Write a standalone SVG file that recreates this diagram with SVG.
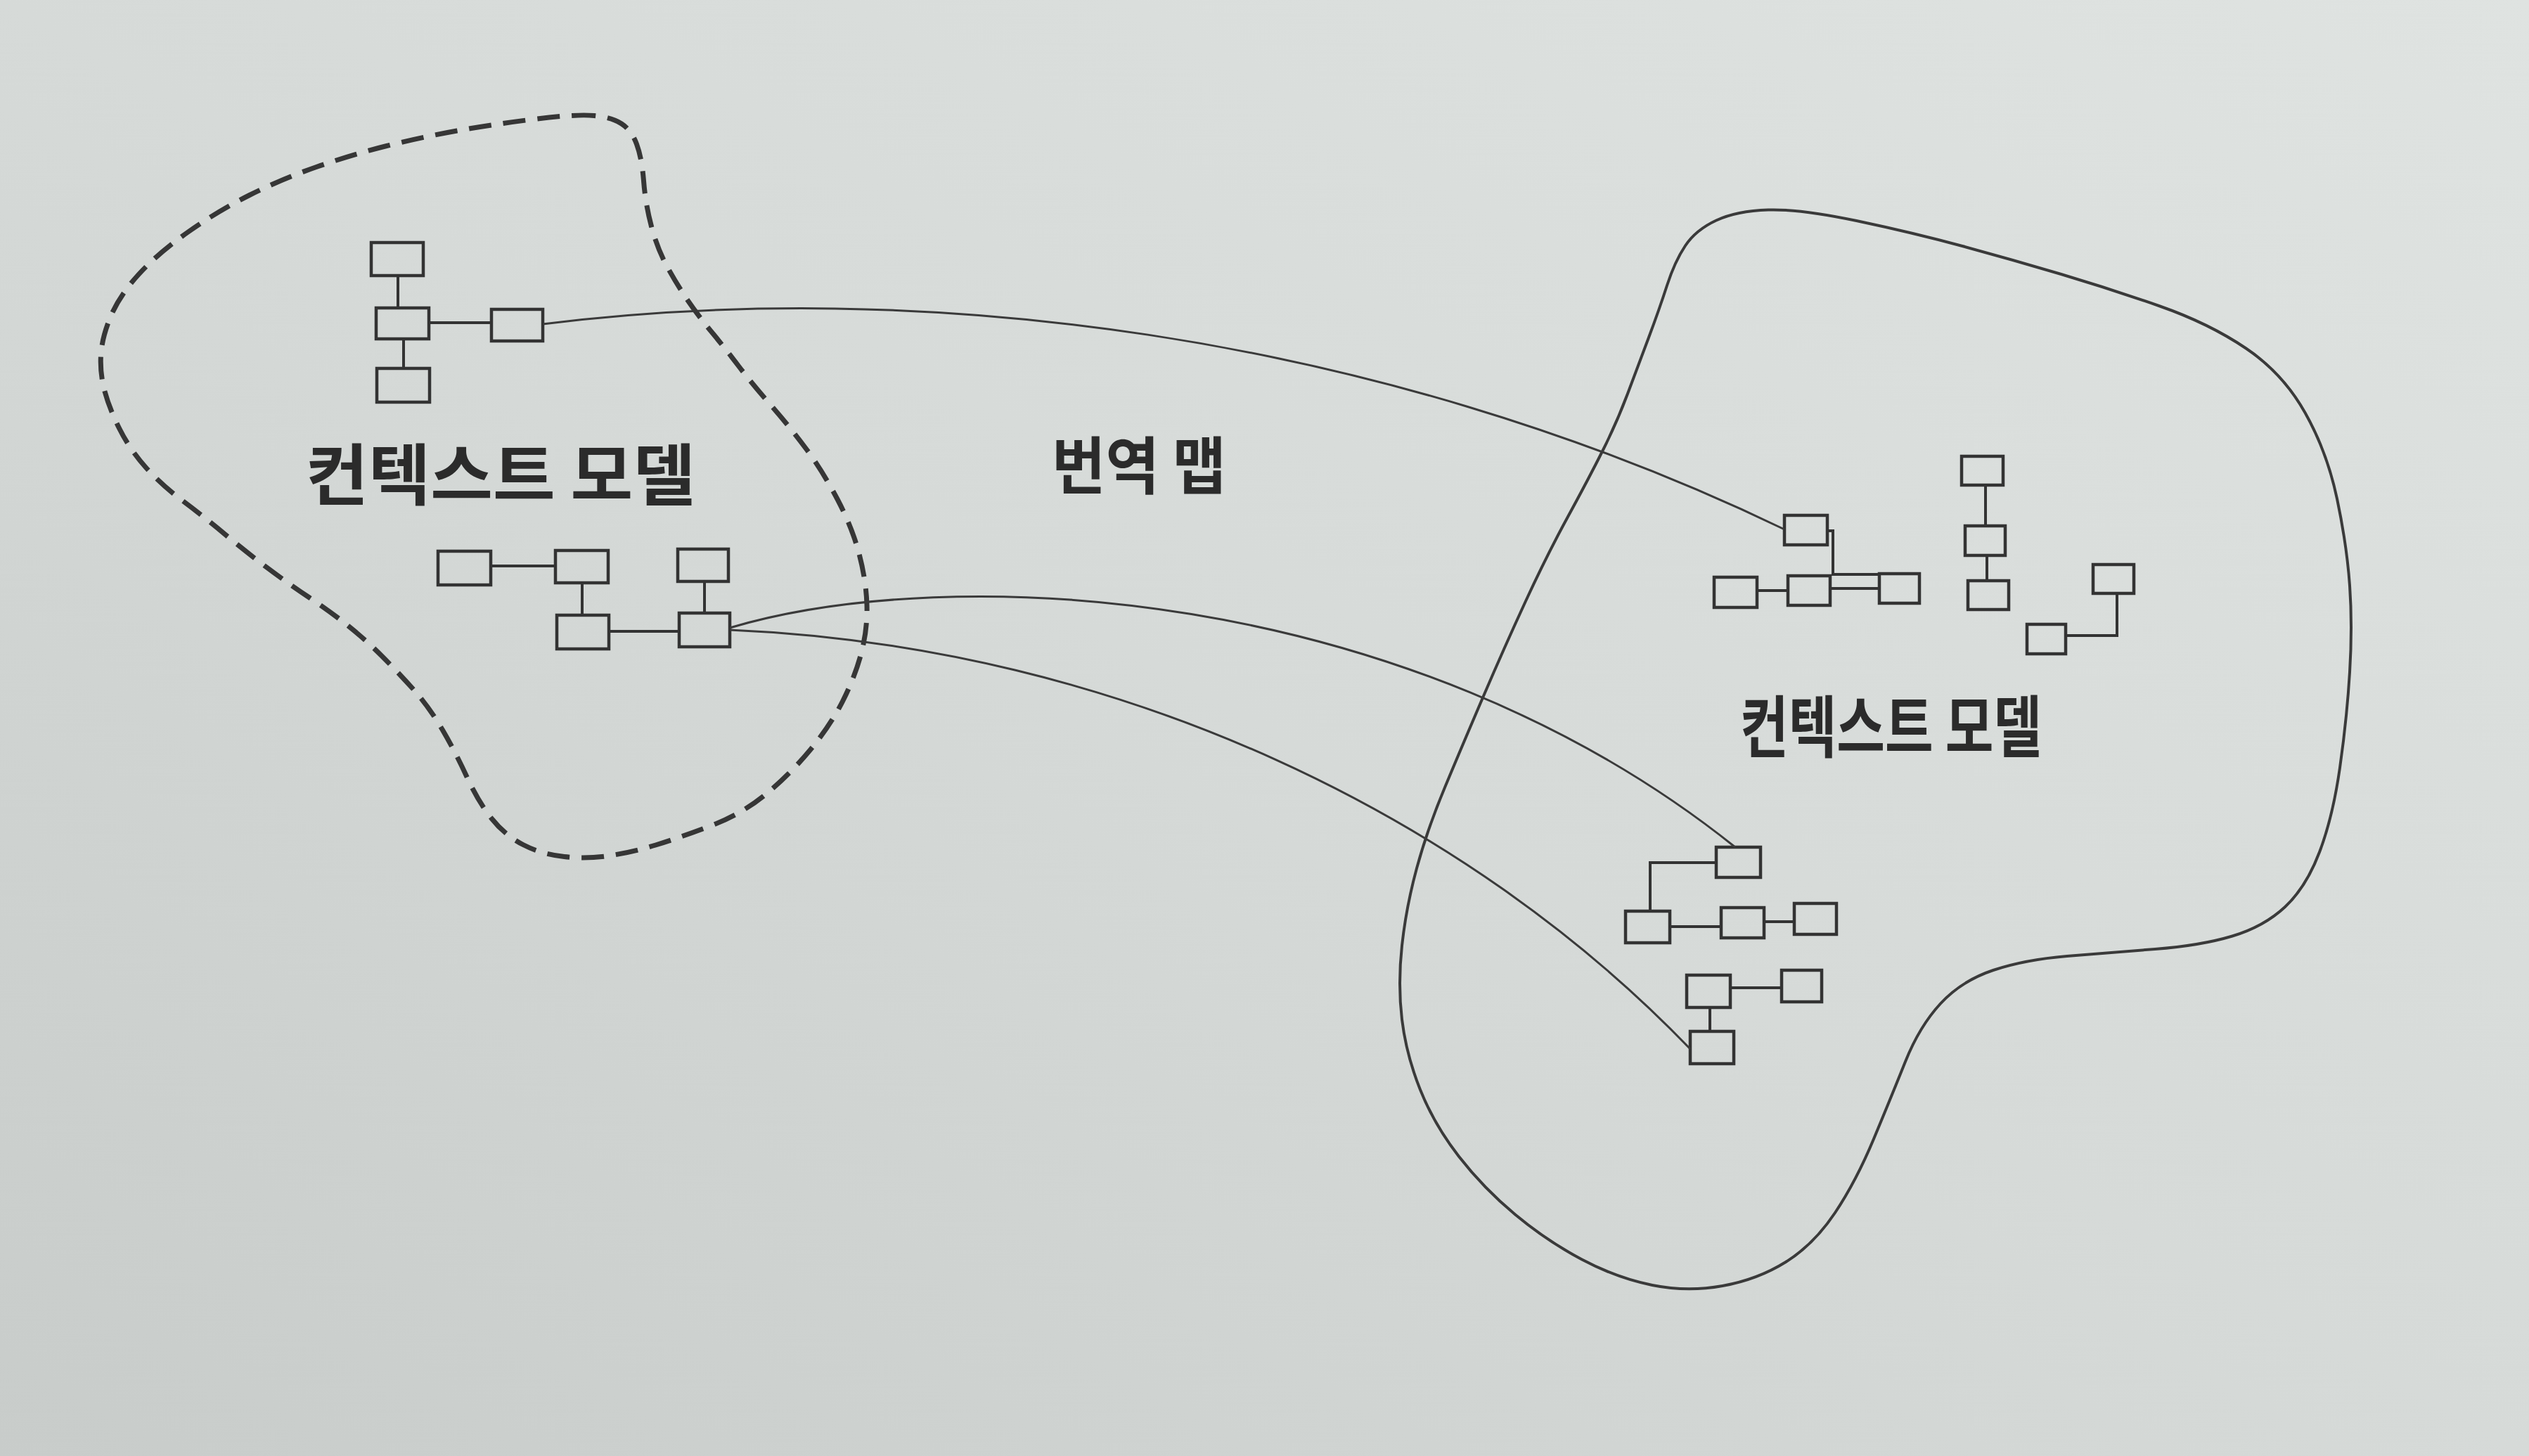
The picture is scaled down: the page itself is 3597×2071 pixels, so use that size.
<svg xmlns="http://www.w3.org/2000/svg" width="3597" height="2071" viewBox="0 0 3597 2071">
<defs>
<linearGradient id="paper" x1="1" y1="0" x2="0" y2="1">
<stop offset="0" stop-color="#dfe3e1"/>
<stop offset="0.5" stop-color="#d6dad8"/>
<stop offset="1" stop-color="#c8ccca"/>
</linearGradient>
<style>
.box{fill:none;stroke:#333;stroke-width:4.5}
.link{fill:none;stroke:#333;stroke-width:4}
.map{fill:none;stroke:#3a3a3a;stroke-width:3}
.dash{fill:none;stroke:#363636;stroke-width:7;stroke-dasharray:32 17;stroke-linecap:butt}
.solid{fill:none;stroke:#3a3a3a;stroke-width:4}
.lbl{font-family:"Noto Sans CJK KR","Noto Sans CJK SC",sans-serif;font-weight:700;fill:#2b2b2b}
</style>
</defs>
<rect x="0" y="0" width="3597" height="2071" fill="url(#paper)"/>

<g id="boundary-left">
<path class="dash" d="M845,164.5 Q820,162 760,169.5 Q700,177 650,186 Q600,195 550,207.5 Q500,220 450,237.5 Q400,255 355,277.5 Q310,300 267.5,330 Q225,360 197.5,390 Q170,420 157.5,450 Q145,480 143.5,505 Q142,530 148.5,555 Q155,580 170,610 Q185,640 207.5,665 Q230,690 260,712.5 Q290,735 320,760 Q350,785 380,807.5 Q410,830 440,850 Q470,870 495,890 Q520,910 542.5,932.5 Q565,955 587.5,980 Q610,1005 629,1037.5 Q648,1070 664,1105 Q680,1140 699,1164 Q718,1188 744,1201.5 Q770,1215 802.5,1218.5 Q835,1222 867.5,1217 Q900,1212 932.5,1202 Q965,1192 1010,1175 Q1055,1158 1089.5,1129.5 Q1124,1101 1152.5,1066.5 Q1181,1032 1198.5,997.5 Q1216,963 1225,929 Q1234,895 1233,860.5 Q1232,826 1222,788 Q1212,750 1191,710 Q1170,670 1147,639 Q1124,608 1096.5,576.5 Q1069,545 1050,520 Q1031,495 1012,472 Q993,449 978,427 Q963,405 949,379.5 Q935,354 926.5,322 Q918,290 915.5,257.5 Q913,225 905.5,205 Q898,185 884,176 Q870,167 845,164.5 Z"/>
</g>

<g id="boundary-right">
<path class="solid" d="M2441,313.5 Q2470,300 2515,298.5 Q2560,297 2640.5,314 Q2721,331 2791,350 Q2861,369 2931.5,390 Q3002,411 3072,435.5 Q3142,460 3194.5,495.5 Q3247,531 3278.5,587 Q3310,643 3324,709.5 Q3338,776 3342,833 Q3346,890 3342,956 Q3338,1022 3328,1092 Q3318,1162 3299,1212 Q3280,1262 3250,1290 Q3220,1318 3175,1331.5 Q3130,1345 3065,1350 Q3000,1355 2940,1360 Q2880,1365 2835,1380 Q2790,1395 2760,1427.5 Q2730,1460 2710,1510 Q2690,1560 2665,1620 Q2640,1680 2610,1725 Q2580,1770 2540,1795 Q2500,1820 2450,1829 Q2400,1838 2350,1828 Q2300,1818 2250,1791.5 Q2200,1765 2155,1727.5 Q2110,1690 2075,1645 Q2040,1600 2020,1550 Q2000,1500 1994,1450 Q1988,1400 1994,1345 Q2000,1290 2015,1235 Q2030,1180 2055,1120 Q2080,1060 2110,990 Q2140,920 2170,855 Q2200,790 2230,735 Q2260,680 2280,640 Q2300,600 2315,560 Q2330,520 2345,480 Q2360,440 2371,406 Q2382,372 2397,349.5 Q2412,327 2441,313.5 Z"/>
</g>

<g id="n-lt-a"><rect class="box" x="528" y="345" width="74" height="47"/></g>
<g id="n-lt-b"><rect class="box" x="535" y="438" width="75" height="44"/></g>
<g id="n-lt-c"><rect class="box" x="536" y="524" width="75" height="48"/></g>
<g id="n-lt-d"><rect class="box" x="699" y="440" width="73" height="45"/></g>

<g id="n-lb-1"><rect class="box" x="623" y="784" width="75" height="48"/></g>
<g id="n-lb-2"><rect class="box" x="790" y="783" width="75" height="46"/></g>
<g id="n-lb-3"><rect class="box" x="964" y="781" width="72" height="46"/></g>
<g id="n-lb-4"><rect class="box" x="792" y="875" width="74" height="48"/></g>
<g id="n-lb-5"><rect class="box" x="966" y="872" width="72" height="48"/></g>

<g id="n-rt-1"><rect class="box" x="2538" y="733" width="61" height="42"/></g>
<g id="n-rt-2"><rect class="box" x="2438" y="821" width="61" height="43"/></g>
<g id="n-rt-3"><rect class="box" x="2543" y="819" width="60" height="42"/></g>
<g id="n-rt-4"><rect class="box" x="2673" y="816" width="57" height="42"/></g>
<g id="n-rt-5"><rect class="box" x="2790" y="649" width="59" height="41"/></g>
<g id="n-rt-6"><rect class="box" x="2795" y="748" width="57" height="42"/></g>
<g id="n-rt-7"><rect class="box" x="2799" y="826" width="58" height="41"/></g>
<g id="n-rt-8"><rect class="box" x="2977" y="803" width="58" height="41"/></g>
<g id="n-rt-9"><rect class="box" x="2883" y="888" width="55" height="42"/></g>

<g id="n-rb-a"><rect class="box" x="2441" y="1205" width="63" height="43"/></g>
<g id="n-rb-b"><rect class="box" x="2312" y="1296" width="63" height="45"/></g>
<g id="n-rb-c"><rect class="box" x="2448" y="1291" width="61" height="43"/></g>
<g id="n-rb-d"><rect class="box" x="2552" y="1285" width="60" height="44"/></g>
<g id="n-rb-e"><rect class="box" x="2399" y="1387" width="62" height="46"/></g>
<g id="n-rb-f"><rect class="box" x="2534" y="1380" width="57" height="45"/></g>
<g id="n-rb-g"><rect class="box" x="2404" y="1467" width="62" height="46"/></g>

<g id="connectors">
<line class="link" x1="566" y1="392" x2="566" y2="438"/>
<line class="link" x1="574" y1="482" x2="574" y2="524"/>
<line class="link" x1="610" y1="459" x2="699" y2="459"/>
<line class="link" x1="698" y1="805" x2="790" y2="805"/>
<line class="link" x1="828" y1="829" x2="828" y2="875"/>
<line class="link" x1="1002" y1="827" x2="1002" y2="872"/>
<line class="link" x1="866" y1="898" x2="966" y2="898"/>
<polyline class="link" points="2599,755 2607,755 2607,817 2673,817"/>
<line class="link" x1="2499" y1="840" x2="2543" y2="840"/>
<line class="link" x1="2603" y1="837" x2="2673" y2="837"/>
<line class="link" x1="2824" y1="690" x2="2824" y2="748"/>
<line class="link" x1="2826" y1="790" x2="2826" y2="826"/>
<polyline class="link" points="3011,844 3011,904 2938,904"/>
<polyline class="link" points="2441,1227 2347,1227 2347,1296"/>
<line class="link" x1="2375" y1="1318" x2="2448" y2="1318"/>
<line class="link" x1="2509" y1="1311" x2="2552" y2="1311"/>
<line class="link" x1="2461" y1="1405" x2="2534" y2="1405"/>
<line class="link" x1="2432" y1="1433" x2="2432" y2="1467"/>
<path class="map" d="M772,461 C1300,395 1950,470 2538,753"/>
<path class="map" d="M1038,893 C1350,800 2000,830 2468,1205"/>
<path class="map" d="M1038,896 C1600,920 2090,1165 2404,1492"/>
</g>

<g id="labels">
<text class="lbl" x="435" y="711" font-size="95" textLength="554" lengthAdjust="spacingAndGlyphs">컨텍스트 모델</text>
<text class="lbl" x="1496" y="695" font-size="89" textLength="248" lengthAdjust="spacingAndGlyphs">번역 맵</text>
<text class="lbl" x="2475" y="1069" font-size="96" textLength="429" lengthAdjust="spacingAndGlyphs">컨텍스트 모델</text>
</g>
</svg>
